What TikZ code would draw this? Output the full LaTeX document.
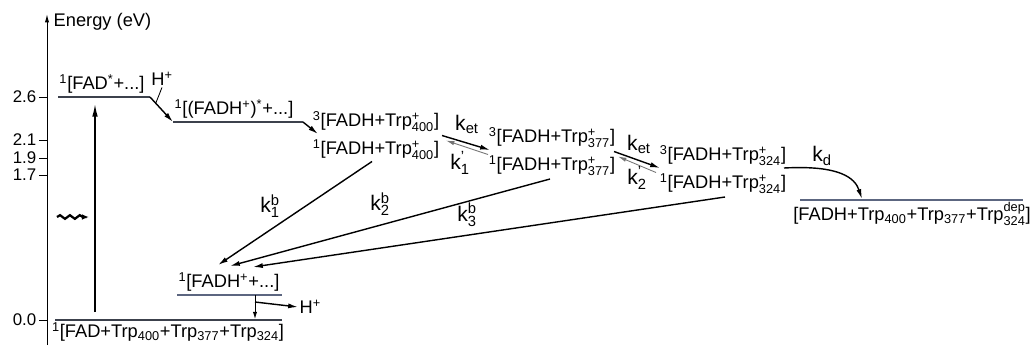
\documentclass[tikz,border=0pt]{standalone}
\usepackage{fontspec}
\setmainfont{Liberation Sans}
\usetikzlibrary{arrows.meta,positioning,calc,decorations.pathmorphing}
\definecolor{lvlgray}{HTML}{3C414C}
\definecolor{lvlblue}{HTML}{5C6680}
\newcommand{\ssup}[1]{\textsuperscript{#1}}
\newcommand{\ssub}[1]{\textsubscript{#1}}
\makeatletter
\newcommand{\supsub}[2]{\ensuremath{{}^{\mbox{\fontsize\sf@size\z@\selectfont #1}}_{\mbox{\fontsize\sf@size\z@\selectfont #2}}}}
\makeatother

\begin{document}
\begin{tikzpicture}[x=0.025cm, y=-0.025cm,
  font=\fontsize{13}{15}\selectfont,
  enlevel/.style={lvlgray, line width=0.8pt},
  pairlevel/.style={lvlgray, line width=0.6pt, double, double distance=1.6pt},
  lbl/.style={inner sep=1pt},
  klbl/.style={inner sep=0pt, font=\fontsize{15}{17}\selectfont},
  react/.style={-{Latex[length=7pt,width=3.6pt]}, line width=1pt},
  backr/.style={-{Latex[length=6pt,width=3pt]}, line width=0.6pt, black!55}]

\useasboundingbox (0,0) rectangle (1033,345);

% energy axis
\coordinate (axbot) at (47,345);
\coordinate (axtop) at (47,14);
\draw[-{Latex[length=6pt,width=3pt]}, line width=0.7pt] (axbot) -- (axtop);
\node[anchor=west, lbl] (axlbl) at (52,22) {Energy (eV)};
\foreach \e/\y [count=\i] in {2.6/97,2.1/140,1.9/158,1.7/175,0.0/320}{
  \draw[line width=0.7pt] (39,\y) -- (47,\y);
  \node[anchor=east, lbl, font=\fontsize{12}{14}\selectfont] (tick\i) at (38,\y) {\e};
}

% levels
\coordinate (g0L) at (55,320);    \coordinate (g0R) at (282,320);
\coordinate (fadL) at (58,97);    \coordinate (fadR) at (150,97);
\coordinate (fadhsL) at (173,122); \coordinate (fadhsR) at (303,122);
\coordinate (t400L) at (318,135.5); \coordinate (t400R) at (440,135.5);
\coordinate (t377L) at (490,151.5); \coordinate (t377R) at (613,151.5);
\coordinate (t324L) at (662,169.5); \coordinate (t324R) at (782,169.5);
\coordinate (depL) at (800,200);  \coordinate (depR) at (1023,200);
\coordinate (fadhL) at (177,295); \coordinate (fadhR) at (282,295);

\draw[enlevel] (g0L) -- (g0R);
\draw[enlevel] (fadL) -- (fadR);
\draw[enlevel] (fadhsL) -- (fadhsR);
\draw[pairlevel] (t400L) -- (t400R);
\draw[pairlevel] (t377L) -- (t377R);
\draw[pairlevel] (t324L) -- (t324R);
\draw[enlevel, lvlblue] (depL) -- (depR);
\draw[enlevel, lvlblue] (fadhL) -- (fadhR);

% state labels
\node[lbl, anchor=north] (g0lbl) at (168,321) {\ssup{1}[FAD+Trp\ssub{400}+Trp\ssub{377}+Trp\ssub{324}]};
\node[lbl, anchor=south] (fadlbl) at (102,95) {\ssup{1}[FAD\ssup{*}+...]};
\node[lbl, anchor=south] (fadhslbl) at (234,120) {\ssup{1}[(FADH\ssup{+})\ssup{*}+...]};
\node[lbl, anchor=south] (t400t) at (376,133) {\ssup{3}[FADH+Trp\supsub{+}{400}]};
\node[lbl, anchor=north] (t400s) at (376,138) {\ssup{1}[FADH+Trp\supsub{+}{400}]};
\node[lbl, anchor=south] (t377t) at (552,149) {\ssup{3}[FADH+Trp\supsub{+}{377}]};
\node[lbl, anchor=north] (t377s) at (552,154) {\ssup{1}[FADH+Trp\supsub{+}{377}]};
\node[lbl, anchor=south] (t324t) at (723,167) {\ssup{3}[FADH+Trp\supsub{+}{324}]};
\node[lbl, anchor=north] (t324s) at (723,172) {\ssup{1}[FADH+Trp\supsub{+}{324}]};
\node[lbl, anchor=north] (deplbl) at (912,201) {[FADH+Trp\ssub{400}+Trp\ssub{377}+Trp\supsub{dep}{324}]};
\node[lbl, anchor=south] (fadhlbl) at (229,293) {\ssup{1}[FADH\ssup{+}+...]};
\node[lbl] (hpup) at (162,79) {H\ssup{+}};
\node[lbl, anchor=west] (hpdown) at (298,307) {H\ssup{+}};

% rate labels
\node[klbl] (ket1) at (467,124) {k\ssub{et}};
\node[klbl] (kp1) at (460,163) {k\supsub{'}{1}};
\node[klbl] (ket2) at (639,144) {k\ssub{et}};
\node[klbl] (kp2) at (637,178) {k\supsub{'}{2}};
\node[klbl] (kd) at (822,156) {k\ssub{d}};
\node[klbl] (kb1) at (270,206) {k\supsub{b}{1}};
\node[klbl] (kb2) at (380,204) {k\supsub{b}{2}};
\node[klbl] (kb3) at (467,215) {k\supsub{b}{3}};

% excitation
\coordinate (exbot) at (95,312);
\coordinate (extop) at (95,104);
\draw[-{Latex[length=9pt,width=4pt]}, line width=1pt] (exbot) -- (extop);
\coordinate (wvL) at (57,217);
\coordinate (wvR) at (89,217);
\draw[-{Latex[length=5pt,width=4pt]}, line width=1.6pt, decorate, decoration={snake, amplitude=1.3pt, segment length=7pt, post length=4pt}] (wvL) -- (wvR);

% deprotonation and forward steps
\draw[react] (fadR) -- (fadhsL);
\draw[line width=0.6pt] (hpup.south) -- ($(fadR)!0.25!(fadhsL)$);
\draw[react] (fadhsR) -- ($(t400L)+(0,-1.5)$);
\draw[react] ($(t400R)+(2,0)$) -- ($(t377L)+(0,-1.5)$);
\draw[backr] ($(t377L)+(-2,3)$) -- ($(t400R)+(6,5)$);
\draw[react] ($(t377R)+(1,0)$) -- ($(t324L)+(-2,-1.5)$);
\draw[backr] ($(t324L)+(-6,3)$) -- ($(t377R)+(5,5)$);
\draw[react] ($(t324R)+(2,-1.5)$) .. controls (840,165) and (855,178) .. (862,199);

% back transfer
\coordinate (fadhin1) at (218,265);
\coordinate (fadhin2) at (230,266);
\coordinate (fadhin3) at (253,267);
\draw[react] (t400s.south) ++(-4,0) -- (fadhin1);
\draw[react] (550,179) -- (fadhin2);
\draw[react] (725,197) -- (fadhin3);

% relaxation to ground state
\coordinate (fadhdrop) at (255,295);
\coordinate (fadhbr) at (255,302);
\draw[-{Latex[length=5pt,width=3pt]}, line width=0.6pt] (fadhdrop) -- (255,319);
\draw[react] (fadhbr) -- (hpdown.west);

\end{tikzpicture}
\end{document}
